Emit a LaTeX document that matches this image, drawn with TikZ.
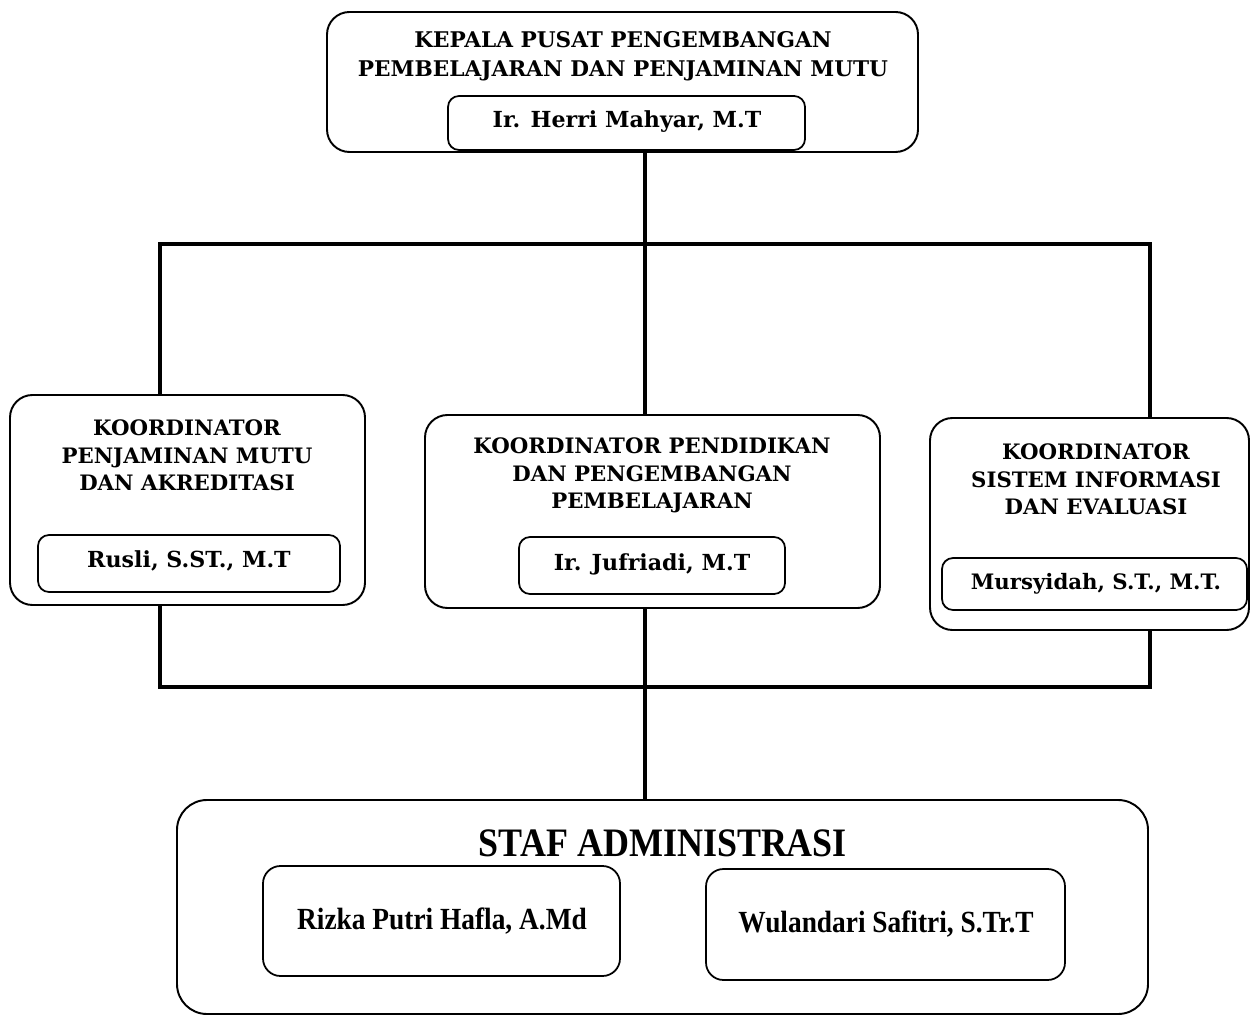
\documentclass[tikz,border=0pt]{standalone}
\usepackage{fontspec}
\setmainfont{DejaVu Serif}
\newfontfamily\condfont{Liberation Serif}
\newcommand{\cond}[1]{\scalebox{0.89}[1]{#1}}
\begin{document}
\begin{tikzpicture}[x=0.02cm,y=-0.02cm,
  box/.style 2 args={draw, line width=1.1pt, rounded corners=0.45cm, minimum width=#1*0.02cm, minimum height=#2*0.02cm, inner sep=0pt},
  namebox/.style 2 args={draw, line width=1.0pt, rounded corners=0.22cm, minimum width=#1*0.02cm, minimum height=#2*0.02cm, inner sep=0pt},
  txt/.style={inner sep=0pt, align=center, font=\bfseries\fontsize{12.1}{15.6}\selectfont},
  nametxt/.style={inner sep=0pt, align=center, font=\bfseries\fontsize{12.6}{15.6}\selectfont},
  ttl/.style={inner sep=0pt, align=center, font=\bfseries\fontsize{12.3}{16.5}\selectfont},
  stf/.style={inner sep=0pt, align=center, font=\condfont\bfseries\fontsize{17.5}{19}\selectfont},
  conn/.style={line width=2.8pt}]
\path[use as bounding box, fill=white] (0,0) rectangle (1250,1016);

% top
\node[box={591}{140}] (top) at (622.5,82) {};
\node[ttl] (toptxt) at (623,56.5) {KEPALA PUSAT PENGEMBANGAN\\PEMBELAJARAN DAN PENJAMINAN MUTU};
\node[namebox={357}{54}, fill=white] (topname) at (626.5,123) {};
\node[nametxt] (topnametxt) at (627,122) {Ir. Herri Mahyar, M.T};

% left
\node[box={355}{210}] (L) at (187.5,500) {};
\node[txt] (Ltxt) at (187,455.5) {KOORDINATOR\\PENJAMINAN MUTU\\DAN AKREDITASI};
\node[namebox={302}{57}] (Lname) at (189,563.5) {};
\node[nametxt] (Lnametxt) at (189,561) {Rusli, S.ST., M.T};

% middle
\node[box={455}{193}] (M) at (652.5,511.5) {};
\node[txt] (Mtxt) at (652,475.5) {KOORDINATOR PENDIDIKAN\\DAN PENGEMBANGAN\\PEMBELAJARAN};
\node[namebox={266}{57}] (Mname) at (652,565.5) {};
\node[nametxt] (Mnametxt) at (652,564) {Ir. Jufriadi, M.T};

% right
\node[box={319}{212}] (R) at (1089.5,524) {};
\node[txt] (Rtxt) at (1096,479.5) {KOORDINATOR\\SISTEM INFORMASI\\DAN EVALUASI};
\node[namebox={305}{52}] (Rname) at (1094.5,584) {};
\node[txt] (Rnametxt) at (1096,584) {Mursyidah, S.T., M.T.};

% bottom
\node[box={971}{214}, rounded corners=0.6cm] (B) at (662.5,907) {};
\node[stf, font=\condfont\bfseries\fontsize{23}{25}\selectfont] (Btxt) at (663,843) {\cond{STAF ADMINISTRASI}};
\node[namebox={357}{110}, rounded corners=0.35cm] (S1) at (441.5,921) {};
\node[stf] (S1txt) at (442,921) {\cond{Rizka Putri Hafla, A.Md}};
\node[namebox={359}{111}, rounded corners=0.35cm] (S2) at (885.5,924.5) {};
\node[stf] (S2txt) at (886,924) {\cond{Wulandari Safitri, S.Tr.T}};

% connectors
\coordinate (jT) at (645,244);
\coordinate (jTL) at (160,244);
\coordinate (jTR) at (1150,244);
\coordinate (jBL) at (160,687);
\coordinate (jBM) at (645,687);
\coordinate (jBR) at (1150,687);

\draw[conn] (top.south -| jT) -- (jT);
\draw[conn] (L.north -| jTL) -- (jTL) -- (jTR) -- (R.north -| jTR);
\draw[conn] (jT) -- (M.north -| jT);
\draw[conn] (L.south -| jBL) -- (jBL) -- (jBR) -- (R.south -| jBR);
\draw[conn] (M.south -| jBM) -- (B.north -| jBM);
\end{tikzpicture}
\end{document}
